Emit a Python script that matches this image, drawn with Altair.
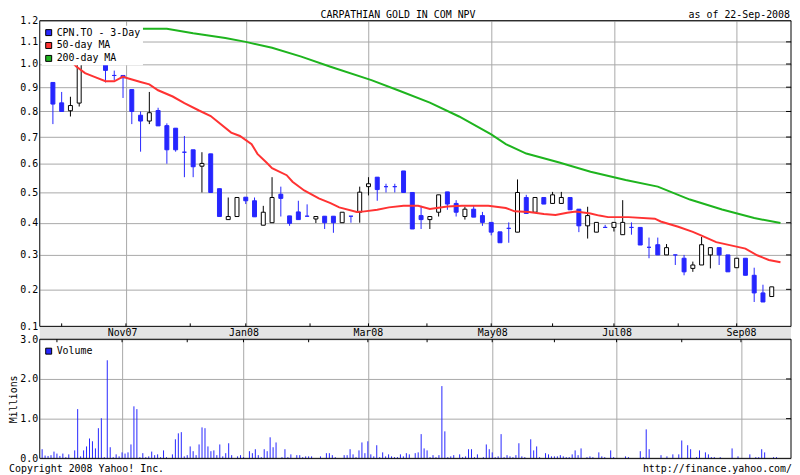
import altair as alt
import pandas as pd

FONT = "DejaVu Sans Mono"
BLUE = "#2626ff"
RED = "#ff3232"
GREEN = "#1eb41e"
GRID = "#a8a8a8"
BAND = "#e4e4e4"

W = 757
HP = 308
HV = 120

chart_title = "CARPATHIAN GOLD IN COM NPV"
as_of = "as of 22-Sep-2008"
copyright_txt = "Copyright 2008 Yahoo! Inc."
url_txt = "http://finance.yahoo.com/"

# trading-day index of month starts (0 = 24-Sep-2007)
month_idx = [5, 27, 49, 68, 90, 110, 130, 152, 173, 194, 216, 236]
major_idx = [27, 68, 110, 152, 194, 236]
major_lbl = ["Nov07", "Jan08", "Mar08", "May08", "Jul08", "Sep08"]

price_ticks = [0.1, 0.2, 0.3, 0.4, 0.5, 0.6, 0.7, 0.8, 0.9, 1.0, 1.1, 1.2]
vol_ticks = [0, 1, 2, 3]

series_names = ["CPN.TO - 3-Day", "50-day MA", "200-day MA"]
series_colors = [BLUE, RED, GREEN]

# 3-day candles
c_open = [0.92, 0.835, 0.803, 0.834, 1.04, 1.10, 1.03, 0.95, 0.95, 0.89,
          0.785, 0.762, 0.804, 0.744, 0.734, 0.643, 0.652, 0.592, 0.637, 0.513,
          0.41, 0.42, 0.484, 0.472, 0.392, 0.40, 0.494, 0.422, 0.435, 0.421,
          0.412, 0.421, 0.421, 0.40, 0.421, 0.434, 0.52, 0.553, 0.52, 0.52,
          0.575, 0.50, 0.423, 0.41, 0.434, 0.502, 0.463, 0.42, 0.444, 0.423,
          0.401, 0.371, 0.382, 0.37, 0.483, 0.434, 0.483, 0.463, 0.463, 0.483,
          0.444, 0.39, 0.37, 0.385, 0.385, 0.362, 0.385, 0.385, 0.323, 0.331,
          0.30, 0.30, 0.29, 0.26, 0.27, 0.30, 0.322, 0.30, 0.262, 0.29,
          0.24, 0.19, 0.18]
c_high = [0.92, 0.88, 0.86, 1.02, 1.06, 1.12, 1.04, 0.971, 0.95, 0.89,
          0.80, 0.88, 0.815, 0.753, 0.734, 0.704, 0.652, 0.643, 0.637, 0.513,
          0.483, 0.483, 0.484, 0.483, 0.455, 0.553, 0.52, 0.422, 0.472, 0.46,
          0.42, 0.421, 0.421, 0.434, 0.421, 0.52, 0.553, 0.553, 0.53, 0.53,
          0.575, 0.50, 0.455, 0.42, 0.492, 0.502, 0.474, 0.452, 0.455, 0.435,
          0.401, 0.371, 0.401, 0.545, 0.492, 0.483, 0.483, 0.502, 0.502, 0.483,
          0.444, 0.452, 0.401, 0.393, 0.401, 0.474, 0.401, 0.385, 0.353, 0.353,
          0.333, 0.30, 0.30, 0.28, 0.355, 0.322, 0.322, 0.30, 0.29, 0.29,
          0.262, 0.213, 0.207]
c_low = [0.75, 0.80, 0.78, 0.82, 1.00, 1.05, 0.92, 0.93, 0.855, 0.75,
         0.645, 0.75, 0.743, 0.601, 0.645, 0.553, 0.553, 0.50, 0.50, 0.42,
         0.41, 0.42, 0.461, 0.419, 0.392, 0.40, 0.42, 0.39, 0.41, 0.421,
         0.399, 0.38, 0.368, 0.40, 0.40, 0.40, 0.49, 0.472, 0.50, 0.50,
         0.50, 0.38, 0.38, 0.38, 0.42, 0.442, 0.42, 0.41, 0.418, 0.39,
         0.36, 0.337, 0.337, 0.37, 0.43, 0.434, 0.461, 0.463, 0.463, 0.442,
         0.37, 0.35, 0.37, 0.385, 0.372, 0.362, 0.362, 0.33, 0.29, 0.30,
         0.30, 0.27, 0.24, 0.25, 0.27, 0.26, 0.27, 0.25, 0.262, 0.24,
         0.165, 0.165, 0.18]
c_close = [0.83, 0.80, 0.824, 1.00, 1.02, 1.07, 0.972, 0.95, 0.94, 0.80,
           0.762, 0.795, 0.743, 0.652, 0.652, 0.643, 0.59, 0.602, 0.50, 0.42,
           0.42, 0.483, 0.472, 0.419, 0.434, 0.483, 0.48, 0.398, 0.41, 0.421,
           0.42, 0.40, 0.40, 0.434, 0.421, 0.501, 0.53, 0.51, 0.52, 0.52,
           0.50, 0.38, 0.41, 0.42, 0.492, 0.461, 0.434, 0.444, 0.418, 0.401,
           0.37, 0.337, 0.382, 0.50, 0.43, 0.483, 0.461, 0.492, 0.483, 0.442,
           0.39, 0.423, 0.401, 0.385, 0.401, 0.401, 0.385, 0.33, 0.323, 0.30,
           0.322, 0.30, 0.25, 0.27, 0.331, 0.322, 0.30, 0.25, 0.29, 0.24,
           0.19, 0.165, 0.207]
candle_day = list(range(2, 250, 3))

# moving averages
ma50_day = [0, 2, 5, 10, 13, 16, 20, 23, 26, 27, 32, 35, 38, 43, 47, 52, 56, 63, 66, 70,
            72, 75, 77, 82, 84, 88, 93, 97, 100, 106, 108, 113, 117, 122, 127, 131, 137,
            142, 151, 157, 160, 165, 170, 174, 178, 181, 186, 189, 192, 199, 208, 210,
            216, 221, 224, 229, 234, 239, 243, 247, 251]
ma50_val = [1.138, 1.111, 1.057, 0.989, 0.96, 0.945, 0.925, 0.925, 0.945, 0.94, 0.922,
            0.912, 0.887, 0.861, 0.834, 0.804, 0.782, 0.717, 0.704, 0.673,
            0.637, 0.606, 0.585, 0.56, 0.537, 0.507, 0.48, 0.464, 0.45, 0.435, 0.436,
            0.442, 0.45, 0.455, 0.455, 0.445, 0.453, 0.455, 0.455, 0.448, 0.437, 0.435,
            0.428, 0.425, 0.432, 0.436, 0.43, 0.423, 0.418, 0.418, 0.413, 0.404,
            0.387, 0.371, 0.359, 0.339, 0.329, 0.319, 0.299, 0.285, 0.278]
ma200_day = [32, 41, 50, 61, 68, 77, 87, 97, 111, 121, 131, 141, 152, 157, 164, 175,
             186, 198, 209, 220, 231, 242, 251]
ma200_val = [1.161, 1.161, 1.14, 1.118, 1.10, 1.073, 1.033, 0.988, 0.93, 0.883, 0.836,
             0.78, 0.71, 0.673, 0.638, 0.606, 0.572, 0.543, 0.52, 0.476, 0.443, 0.415,
             0.399]

# daily volume (millions)
vol_day = [0, 1, 2, 3, 4, 5, 6, 7, 8, 9, 11, 12, 13, 14, 15, 16, 17, 18, 19, 20, 21, 22,
           23, 24, 25, 26, 27, 28, 29, 30, 31, 32, 33, 34, 35, 36, 37, 38, 39, 40, 41, 42,
           44, 45, 46, 47, 48, 49, 50, 51, 52, 53, 54, 55, 56, 57, 58, 59, 60, 61, 62, 63,
           64, 66, 67, 68, 70, 71, 72, 73, 74, 75, 76, 77,
           78, 79, 81, 82, 83, 84, 86, 87, 88, 89, 90, 91, 94, 96, 97, 98, 99, 102, 103,
           104, 105, 106, 107, 108, 109, 110, 111, 112, 113, 114, 115, 116, 117, 118, 119,
           120, 121, 122, 123, 124, 126, 127, 128, 129, 130, 131, 132, 133, 134, 135, 136,
           137, 138, 139, 141, 142, 143, 144, 145, 146, 147, 149, 150, 151, 152, 153, 154,
           155, 156, 157, 158, 159, 160, 161, 162, 163,
           165, 166, 167, 168, 170, 171, 172, 173, 174, 175, 176, 177, 178, 179, 180, 181,
           182, 184, 185, 186, 188, 189, 190, 192, 193, 197, 198, 202, 203, 204, 205, 209,
           211, 213, 215, 216, 218, 219, 221, 222, 224, 225, 226, 227, 229, 233, 235, 239,
           241, 242, 243, 244, 247, 248]
vol_m = [0.23, 0.07, 0.06, 0.08, 0.17, 0.12, 0.06, 0.12, 0.03, 0.10, 0.20, 1.24, 0.05, 0.20,
         0.30, 0.50, 0.43, 0.25, 0.76, 1.01, 0.03, 2.47, 0.28, 0.03, 0.10, 0.05, 0.15, 0.12,
         0.15, 0.35, 1.31, 1.24, 0.03, 0.13, 0.03, 0.05, 0.17, 0.08, 0.10, 0.03, 0.20, 0.03,
         0.10, 0.48, 0.63, 0.66, 0.05, 0.08, 0.30, 0.18, 0.08, 0.35, 0.78, 0.76, 0.30, 0.18,
         0.20, 0.08, 0.35, 0.05, 0.13, 0.38, 0.08, 0.05, 0.08, 0.03, 0.18, 0.13, 0.23, 0.08,
         0.03, 0.23, 0.18, 0.53,
         0.28, 0.40, 0.03, 0.23, 0.03, 0.10, 0.08, 0.08, 0.03, 0.05, 0.05, 0.05, 0.05, 0.13,
         0.13, 0.08, 0.03, 0.08, 0.08, 0.23, 0.10, 0.03, 0.20, 0.40, 0.13, 0.43, 0.10, 0.05,
         0.33, 0.03, 0.15, 0.05, 0.10, 0.05, 0.03, 0.03, 0.10, 0.05, 0.13, 0.10, 0.13, 0.15,
         0.61, 0.25, 0.20, 0.03, 0.08, 0.03, 0.08, 1.82, 0.68, 0.03, 0.05, 0.08, 0.10, 0.03,
         0.05, 0.23, 0.23, 0.03, 0.10, 0.03, 0.35, 0.23, 0.15, 0.03, 0.05, 0.61, 0.03, 0.08,
         0.05, 0.03, 0.08, 0.38, 0.05, 0.03,
         0.48, 0.20, 0.30, 0.03, 0.13, 0.10, 0.05, 0.05, 0.05, 0.08, 0.05, 0.03, 0.03, 0.10,
         0.20, 0.08, 0.25, 0.03, 0.05, 0.03, 0.15, 0.05, 0.03, 0.20, 0.03, 0.05, 0.03, 0.18,
         0.03, 0.73, 0.23, 0.08, 0.05, 0.10, 0.10, 0.45, 0.33, 0.23, 0.03, 0.20, 0.15, 0.10,
         0.03, 0.03, 0.03, 0.25, 0.05, 0.10, 0.03, 0.03, 0.23, 0.15, 0.03, 0.03]

candles = pd.DataFrame({"day": candle_day, "open": c_open, "high": c_high,
                        "low": c_low, "close": c_close})
ma50 = pd.DataFrame({"day": ma50_day, "price": ma50_val})
ma200 = pd.DataFrame({"day": ma200_day, "price": ma200_val})
vol = pd.DataFrame({"day": vol_day, "vol": vol_m})
months = pd.DataFrame({"day": month_idx})
ptick_df = pd.DataFrame({"price": price_ticks[1:-1]})
vtick_df = pd.DataFrame({"vol": vol_ticks[1:-1]})
one = pd.DataFrame({"a": [0]})

xs = alt.Scale(domain=[-0.8, 252.9], nice=False, zero=False)
ys = alt.Scale(type="symlog", constant=1.19, domain=[0.1, 1.2], nice=False, zero=False)
vs = alt.Scale(domain=[0, 3], nice=False, zero=False)

label_expr = (f"indexof({major_idx}, datum.value) >= 0 ? "
              f"{major_lbl}[indexof({major_idx}, datum.value)] : ''")

x_ax_p = alt.Axis(values=major_idx, grid=True, gridColor=GRID, gridWidth=1, labels=False,
                  ticks=False, domain=False, title=None)
y_ax_p = alt.Axis(values=price_ticks, format=".1f", grid=True, gridColor=GRID, gridWidth=1,
                  ticks=False, domain=False, labelPadding=2, labelFont=FONT, labelFontSize=10,
                  labelColor="black", title=None)
x_ax_v = alt.Axis(orient="top", values=major_idx, grid=True, gridColor=GRID, gridWidth=1,
                  labels=True, labelExpr=label_expr, ticks=False, domain=False,
                  labelPadding=2, labelFont=FONT, labelFontSize=10, labelColor="black",
                  title=None)
y_ax_v = alt.Axis(values=vol_ticks, format=".1f", grid=True, gridColor=GRID, gridWidth=1,
                  ticks=False, domain=False, labelPadding=2, labelFont=FONT, labelFontSize=10,
                  labelColor="black", title="Millions", titleFont=FONT, titleFontSize=10,
                  titleFontWeight="normal", titleColor="black", titlePadding=1)

X = alt.X("day:Q", scale=xs, axis=x_ax_p)
up = "datum.close > datum.open"

band = alt.Chart(one).mark_rect(color=BAND).encode(
    x=alt.value(0), x2=alt.value(W), y=alt.value(HP), y2=alt.value(HP + 13))

wicks = alt.Chart(candles).mark_rule(strokeWidth=1).encode(
    x=X,
    y=alt.Y("low:Q", scale=ys, axis=y_ax_p),
    y2="high:Q",
    color=alt.condition(up, alt.value("black"), alt.value(BLUE)))

bodies = alt.Chart(candles).mark_bar(size=4, strokeWidth=1).encode(
    x=X,
    y=alt.Y("open:Q", scale=ys, axis=y_ax_p),
    y2="close:Q",
    fill=alt.condition(up, alt.value("white"), alt.value(BLUE)),
    stroke=alt.condition(up, alt.value("black"), alt.value(BLUE)))

line200 = alt.Chart(ma200).mark_line(color=GREEN, strokeWidth=2).encode(
    x=X, y=alt.Y("price:Q", scale=ys, axis=y_ax_p))
line50 = alt.Chart(ma50).mark_line(color=RED, strokeWidth=2).encode(
    x=X, y=alt.Y("price:Q", scale=ys, axis=y_ax_p))

leg_common = dict(orient="none", title=None, symbolType="square", symbolSize=36,
                  symbolStrokeColor="black", symbolStrokeWidth=1, symbolOpacity=1,
                  labelFont=FONT, labelFontSize=10, labelColor="black", labelOffset=3,
                  fillColor="white", padding=2, rowPadding=3, zindex=1,
                  legendX=2, legendY=5)

legend_p = alt.Chart(pd.DataFrame({"series": series_names})).mark_square(size=4).encode(
    x=alt.value(8), y=alt.value(12),
    fill=alt.Fill("series:N", scale=alt.Scale(domain=series_names, range=series_colors),
                  legend=alt.Legend(**leg_common)))

mticks_p = alt.Chart(months).mark_rule(color="black").encode(
    x=X, y=alt.value(HP - 3), y2=alt.value(HP))
rticks_p = alt.Chart(ptick_df).mark_rule(color="black").encode(
    x=alt.value(W - 5), x2=alt.value(W), y=alt.Y("price:Q", scale=ys, axis=y_ax_p))
frame_p = alt.Chart(one).mark_rect(filled=False, stroke="black", strokeWidth=1).encode(
    x=alt.value(0), x2=alt.value(W), y=alt.value(0), y2=alt.value(HP))

title_t = alt.Chart(pd.DataFrame({"t": [chart_title]})).mark_text(
    font=FONT, fontSize=10, align="center", baseline="middle", color="black").encode(
    x=alt.value(361), y=alt.value(-5.5), text="t:N")
asof_t = alt.Chart(pd.DataFrame({"t": [as_of]})).mark_text(
    font=FONT, fontSize=10, align="right", baseline="middle", color="black").encode(
    x=alt.value(W - 1), y=alt.value(-5.5), text="t:N")

price = alt.layer(band, wicks, bodies, line200, line50, legend_p, mticks_p, rticks_p,
                  frame_p, title_t, asof_t).properties(width=W, height=HP)

XV = alt.X("day:Q", scale=xs, axis=x_ax_v)
vbars = alt.Chart(vol).mark_rule(color=BLUE, strokeWidth=1).encode(
    x=XV, y=alt.Y("vol:Q", scale=vs, axis=y_ax_v), y2=alt.datum(0))
legend_v = alt.Chart(pd.DataFrame({"series": ["Volume"]})).mark_square(size=4).encode(
    x=alt.value(8), y=alt.value(12),
    fill=alt.Fill("series:N", scale=alt.Scale(domain=["Volume"], range=[BLUE]),
                  legend=alt.Legend(**leg_common)))
mticks_v = alt.Chart(months).mark_rule(color="black").encode(
    x=XV, y=alt.value(0), y2=alt.value(3))
rticks_v = alt.Chart(vtick_df).mark_rule(color="black").encode(
    x=alt.value(W - 5), x2=alt.value(W), y=alt.Y("vol:Q", scale=vs, axis=y_ax_v))
frame_v = alt.Chart(one).mark_rect(filled=False, stroke="black", strokeWidth=1).encode(
    x=alt.value(0), x2=alt.value(W), y=alt.value(0), y2=alt.value(HV))
copy_t = alt.Chart(pd.DataFrame({"t": [copyright_txt]})).mark_text(
    font=FONT, fontSize=10, align="left", baseline="middle", color="black").encode(
    x=alt.value(-31), y=alt.value(130.5), text="t:N")
url_t = alt.Chart(pd.DataFrame({"t": [url_txt]})).mark_text(
    font=FONT, fontSize=10, align="right", baseline="middle", color="black").encode(
    x=alt.value(W + 1), y=alt.value(130.5), text="t:N")

volume = alt.layer(vbars, legend_v, mticks_v, rticks_v, frame_v, copy_t, url_t).properties(
    width=W, height=HV)

chart = alt.vconcat(price, volume, spacing=13, bounds="flush").resolve_scale(
    x="independent", y="independent", fill="independent").resolve_legend(
    fill="independent").properties(padding=0, background="white").configure_view(
    stroke=None).configure_axis(labelFont=FONT, titleFont=FONT)

chart.save("out.html", embed_options={"renderer": "svg", "actions": False})
